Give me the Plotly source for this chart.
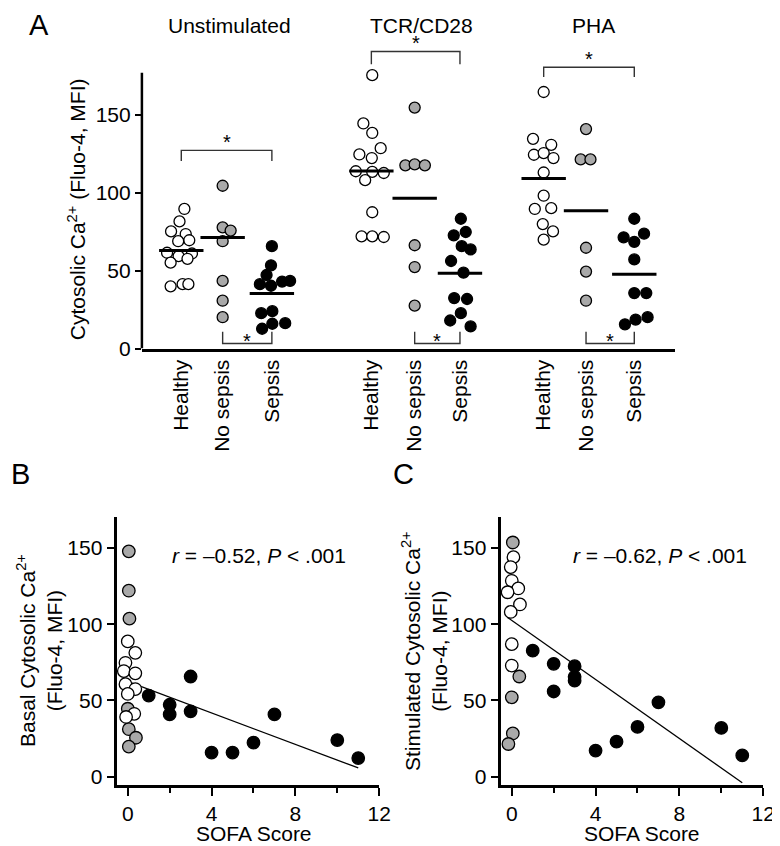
import plotly.graph_objects as go

FONT = "Liberation Sans, Arial, Helvetica, sans-serif"

# ---------------- Panel A data ----------------
groups = ["Unstimulated", "TCR/CD28", "PHA"]
categories = ["Healthy", "No sepsis", "Sepsis"]

unstim_healthy = [89.6, 81.6, 75.2, 73.5, 69.5, 68.9, 61.5, 61.0, 59.3, 55.1, 57.6, 39.9, 41.3, 41.3]
unstim_nosepsis = [104.5, 77.8, 75.7, 68.9, 43.4, 30.7, 20.1]
unstim_sepsis = [65.7, 53.4, 47.2, 41.3, 40.3, 43.0, 43.4, 22.7, 24.0, 15.9, 16.3, 12.7]

tcr_healthy = [175.5, 144.5, 138.4, 128.6, 124.6, 122.3, 113.8, 113.4, 112.7, 108.1, 87.5, 72.0, 72.0, 71.6]
tcr_nosepsis = [154.7, 117.6, 118.2, 117.6, 66.3, 52.3, 27.5]
tcr_sepsis = [83.3, 72.7, 74.8, 65.7, 63.6, 56.2, 48.7, 32.4, 31.8, 22.7, 18.0, 14.2]

pha_healthy = [164.7, 134.6, 130.8, 124.4, 125.5, 122.3, 113.0, 98.1, 89.6, 90.1, 79.9, 75.2, 69.9]
pha_nosepsis = [140.9, 121.4, 121.4, 64.7, 49.4, 30.7]
pha_sepsis = [83.3, 71.4, 73.7, 68.5, 57.2, 35.6, 35.6, 15.5, 18.6, 20.1]

# group means (horizontal bars)
unstim_means = [63.0, 71.2, 35.4]
tcr_means = [114.0, 96.4, 48.3]
pha_means = [109.1, 88.4, 47.7]

# significance brackets: (group, from category, to category, bar level, leg end)
brackets = [
    (0, 0, 2, 127.2, 120.4),
    (1, 0, 2, 190.7, 182.5),
    (2, 0, 2, 180.6, 174.3),
    (0, 1, 2, 3.2, 10.8),
    (1, 1, 2, 3.2, 10.8),
    (2, 1, 2, 3.2, 10.8),
]

# ---------------- Panel B / C data ----------------
b_healthy_sofa = [0.0, 0.36, -0.11, -0.19, 0.36, -0.11, 0.36, 0.0, 0.31, -0.08]
b_healthy_val = [88.7, 81.2, 74.7, 69.3, 67.8, 60.7, 57.5, 54.3, 41.3, 39.2]
b_nosepsis_sofa = [0.05, 0.05, 0.08, 0.0, 0.05, 0.39, 0.05]
b_nosepsis_val = [147.7, 121.9, 103.6, 44.6, 31.2, 25.6, 19.8]
b_sepsis_sofa = [1, 2, 2, 3, 3, 4, 5, 6, 7, 10, 11]
b_sepsis_val = [53.2, 47.2, 40.9, 65.7, 42.9, 15.9, 15.9, 22.4, 40.9, 24.1, 12.3]
b_fit_x = [-0.3, 11.0]
b_fit_y = [64.0, 5.8]

c_healthy_sofa = [0.08, -0.05, 0.0, 0.31, -0.2, 0.39, -0.05, 0.0, 0.0]
c_healthy_val = [143.9, 137.4, 128.4, 123.4, 120.9, 112.9, 108.0, 86.9, 72.9]
c_nosepsis_sofa = [0.05, 0.36, 0.0, 0.05, -0.16]
c_nosepsis_val = [153.5, 65.7, 52.1, 28.4, 21.5]
c_sepsis_sofa = [1, 2, 2, 3, 3, 3, 4, 5, 6, 7, 10, 11]
c_sepsis_val = [82.6, 74.0, 55.9, 72.5, 65.5, 63.0, 17.2, 23.0, 32.7, 48.8, 32.0, 14.0]
c_fit_x = [-0.2, 11.0]
c_fit_y = [104.4, -3.9]

# ---------------- layout helpers (positions / styles) ----------------
cat_pos = [[0.887, 1.819, 2.928], [5.169, 6.145, 7.165], [9.051, 10.005, 11.092]]
jitter = {
    (0, 0): [0.07, -0.04, -0.23, 0.10, 0.18, -0.07, -0.32, 0.24, -0.06, -0.24, 0.14, -0.24, 0.03, 0.16],
    (0, 1): [0, 0, 0.18, 0, 0, 0, 0],
    (0, 2): [0, -0.02, -0.12, -0.27, -0.02, 0.23, 0.41, -0.24, 0.01, 0.01, 0.30, -0.22],
    (1, 0): [0.02, -0.18, 0.02, 0.21, -0.27, 0.01, -0.35, 0.02, 0.28, -0.14, 0.02, -0.22, 0.02, 0.28],
    (1, 1): [0, -0.21, 0, 0.23, 0, 0, 0],
    (1, 2): [0.02, -0.14, 0.13, 0.04, 0.24, -0.20, 0.08, -0.13, 0.16, 0.02, -0.22, 0.24],
    (2, 0): [0, -0.24, 0.17, -0.22, 0, 0.22, 0, 0, -0.20, 0.17, -0.02, 0.21, 0],
    (2, 1): [0, -0.12, 0.10, 0, 0, 0],
    (2, 2): [0, -0.24, 0.22, 0, 0, 0, 0.27, -0.21, 0.03, 0.30],
}
panelA = [
    [unstim_healthy, unstim_nosepsis, unstim_sepsis],
    [tcr_healthy, tcr_nosepsis, tcr_sepsis],
    [pha_healthy, pha_nosepsis, pha_sepsis],
]
panelA_means = [unstim_means, tcr_means, pha_means]
fills = ["white", "#a9a9a9", "black"]

W, H = 780, 846
def px_x(p):
    return p / W
def px_y(p):
    return 1 - p / H

fig = go.Figure()

# ---- Panel A points
for g in range(3):
    for c in range(3):
        vals = panelA[g][c]
        xs = [cat_pos[g][c] + j for j in jitter[(g, c)]]
        fig.add_trace(go.Scatter(
            x=xs, y=vals, mode="markers", xaxis="x", yaxis="y",
            marker=dict(size=11, color=fills[c], line=dict(color="black", width=1.3)),
            showlegend=False, hoverinfo="skip", cliponaxis=False))

# ---- Panel A mean bars
mx, my = [], []
for g in range(3):
    for c in range(3):
        mx += [cat_pos[g][c] - 0.5, cat_pos[g][c] + 0.5, None]
        my += [panelA_means[g][c], panelA_means[g][c], None]
fig.add_trace(go.Scatter(x=mx, y=my, mode="lines", xaxis="x", yaxis="y",
                         line=dict(color="black", width=3), showlegend=False, hoverinfo="skip"))

# ---- Panel A brackets
bx, by = [], []
stars = []
for g, c1, c2, bar, leg in brackets:
    x1, x2 = cat_pos[g][c1], cat_pos[g][c2]
    bx += [x1, x1, x2, x2, None]
    by += [leg, bar, bar, leg, None]
    stars.append(((x1 + x2) / 2, bar, bar > leg))
fig.add_trace(go.Scatter(x=bx, y=by, mode="lines", xaxis="x", yaxis="y",
                         line=dict(color="#333333", width=1.4), showlegend=False, hoverinfo="skip"))

annotations = []
for xm, bar, top in stars:
    annotations.append(dict(
        x=xm, y=bar + (5.5 if top else 1.5), xref="x", yref="y", text="*", showarrow=False,
        font=dict(family=FONT, size=20, color="black"), xanchor="center", yanchor="middle"))

# ---- Panel B
fig.add_trace(go.Scatter(x=b_fit_x, y=b_fit_y, mode="lines", xaxis="x2", yaxis="y2",
                         line=dict(color="black", width=1.3), showlegend=False, hoverinfo="skip"))
for xs, ys, col in [(b_nosepsis_sofa, b_nosepsis_val, fills[1]),
                    (b_healthy_sofa, b_healthy_val, fills[0]),
                    (b_sepsis_sofa, b_sepsis_val, fills[2])]:
    fig.add_trace(go.Scatter(x=xs, y=ys, mode="markers", xaxis="x2", yaxis="y2",
                             marker=dict(size=12.5, color=col, line=dict(color="black", width=1.3)),
                             showlegend=False, hoverinfo="skip", cliponaxis=False))

# ---- Panel C
fig.add_trace(go.Scatter(x=c_fit_x, y=c_fit_y, mode="lines", xaxis="x3", yaxis="y3",
                         line=dict(color="black", width=1.3), showlegend=False, hoverinfo="skip"))
for xs, ys, col in [(c_healthy_sofa, c_healthy_val, fills[0]),
                    (c_nosepsis_sofa, c_nosepsis_val, fills[1]),
                    (c_sepsis_sofa, c_sepsis_val, fills[2])]:
    fig.add_trace(go.Scatter(x=xs, y=ys, mode="markers", xaxis="x3", yaxis="y3",
                             marker=dict(size=12.5, color=col, line=dict(color="black", width=1.3)),
                             showlegend=False, hoverinfo="skip", cliponaxis=False))

tickfont = dict(family=FONT, size=21, color="black")

def text_ann(x, y, text, size=21, angle=0, xanchor="center", yanchor="middle"):
    return dict(x=x, y=y, xref="paper", yref="paper", text=text, showarrow=False,
                textangle=angle, font=dict(family=FONT, size=size, color="black"),
                xanchor=xanchor, yanchor=yanchor)

# panel letters
annotations.append(text_ann(px_x(31), px_y(17), "A", size=29))
annotations.append(text_ann(px_x(13), px_y(472), "B", size=29))
annotations.append(text_ann(px_x(402), px_y(472), "C", size=29))
# group titles
for name, xp in zip(groups, [225, 420, 595]):
    annotations.append(text_ann(px_x(xp), px_y(18), name))
# axis titles
annotations.append(text_ann(px_x(70), px_y(204), "Cytosolic Ca<sup>2+</sup> (Fluo-4, MFI)", angle=-90))
annotations.append(text_ann(px_x(32), px_y(651), "Basal Cytosolic Ca<sup>2+</sup><br>(Fluo-4, MFI)", angle=-90))
annotations.append(text_ann(px_x(423), px_y(651), "Stimulated Cytosolic Ca<sup>2+</sup><br>(Fluo-4, MFI)", angle=-90))
annotations.append(text_ann(px_x(250), px_y(836), "SOFA Score"))
annotations.append(text_ann(px_x(644), px_y(836), "SOFA Score"))
# correlation text
annotations.append(text_ann(px_x(255), px_y(555), "<i>r</i> = \u20130.52, <i>P</i> &lt; .001"))
annotations.append(text_ann(px_x(662), px_y(555), "<i>r</i> = \u20130.62, <i>P</i> &lt; .001"))

# Panel A y-axis line drawn only up to the top of the value range
shapes = [dict(type="line", xref="x domain", yref="y", x0=0, x1=0, y0=0, y1=177,
               line=dict(color="black", width=2.5))]

A_x_ticks = [p for grp in cat_pos for p in grp]
A_x_text = categories * 3

sofa_axis = dict(range=[-0.5, 12], showline=True, linecolor="black", linewidth=2.5,
                 ticks="outside", ticklen=8, tickwidth=2, tickcolor="black",
                 tickvals=[0, 4, 8, 12], showgrid=False, zeroline=False, tickfont=tickfont,
                 minor=dict(tickvals=[2, 6, 10], ticks="outside", ticklen=5, tickwidth=2,
                            tickcolor="black", showgrid=False))
val_axis = dict(range=[-5.2, 170], showline=True, linecolor="black", linewidth=2.5,
                ticks="outside", ticklen=8, tickwidth=2, tickcolor="black",
                tickvals=[0, 50, 100, 150], showgrid=False, zeroline=False, tickfont=tickfont)

fig.update_layout(
    width=W, height=H, autosize=False,
    margin=dict(l=0, r=0, t=0, b=0),
    paper_bgcolor="white", plot_bgcolor="white",
    font=dict(family=FONT, size=21, color="black"),
    showlegend=False,
    xaxis=dict(domain=[px_x(136), px_x(677)], range=[0, 12], anchor="y",
               showline=True, linecolor="black", linewidth=2.5, ticks="",
               tickvals=A_x_ticks, ticktext=A_x_text, tickangle=-90,
               showgrid=False, zeroline=False, tickfont=tickfont),
    yaxis=dict(domain=[px_y(345), px_y(21.5)], range=[0, 205], anchor="x",
               showline=False, ticks="outside", ticklen=6, tickwidth=2, tickcolor="black",
               tickvals=[0, 50, 100, 150], showgrid=False, zeroline=False, tickfont=tickfont),
    xaxis2=dict(domain=[px_x(111), px_x(377)], anchor="y2", **sofa_axis),
    yaxis2=dict(domain=[px_y(787), px_y(516)], anchor="x2", **val_axis),
    xaxis3=dict(domain=[px_x(501), px_x(767)], anchor="y3", **sofa_axis),
    yaxis3=dict(domain=[px_y(787), px_y(516)], anchor="x3", **val_axis),
    annotations=annotations,
    shapes=shapes,
)

fig.write_html("out.html")
